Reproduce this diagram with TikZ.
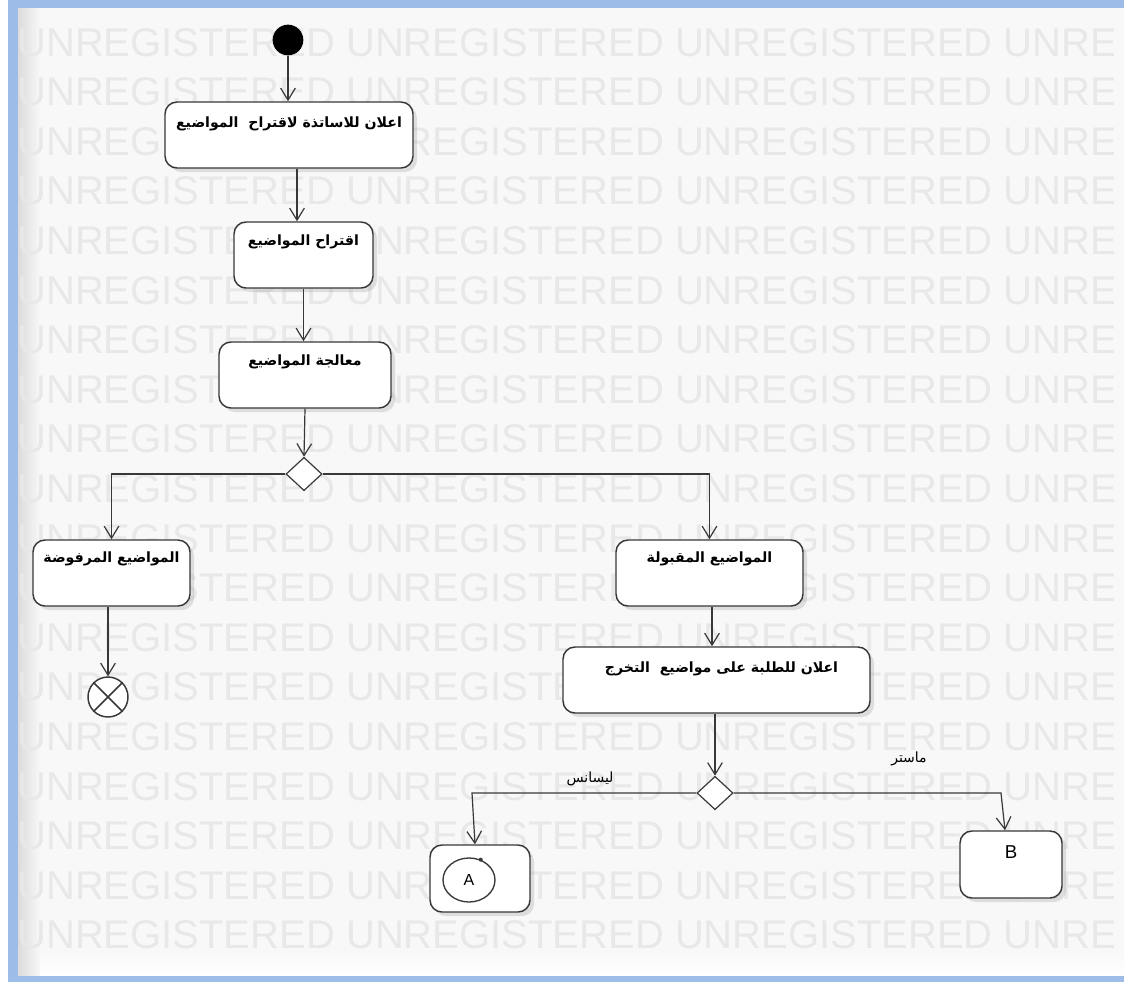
\documentclass[tikz,border=0pt]{standalone}
\usepackage{fontspec}
\setmainfont{Liberation Sans}
\newfontfamily\arabicfont[Script=Arabic]{DejaVu Sans}
\TeXXeTstate=1
\usetikzlibrary{arrows.meta,shapes.geometric,shadows,calc}
\definecolor{framebl}{HTML}{9DBDE8}
\definecolor{bgc}{HTML}{F8F8F8}
\definecolor{wmc}{HTML}{E8E8E8}
\definecolor{linec}{HTML}{383838}
\begin{document}
\begin{tikzpicture}[x=0.75pt,y=-0.75pt,
  box/.style={draw=linec, line width=1.1pt, rounded corners=9pt, fill=white, inner sep=0pt,
    drop shadow={shadow xshift=3pt, shadow yshift=-3pt, opacity=0.22, fill=gray}},
  arr/.style={draw=linec, line width=0.9pt, -{Straight Barb[length=9pt,width=11pt,line width=0.9pt]}},
  ln/.style={draw=linec, line width=0.9pt},
  atxt/.style={font=\arabicfont\bfseries\fontsize{10.6}{12}\selectfont, inner sep=0pt},
  gtxt/.style={font=\arabicfont\fontsize{10.5}{12}\selectfont, inner sep=0pt},
  wm/.style={font=\fontsize{30}{30}\selectfont, text=wmc, inner sep=0pt, anchor=base west},
  dia/.style={diamond, draw=linec, line width=0.9pt, fill=white, minimum width=27pt, minimum height=25pt, inner sep=0pt, aspect=1.1}
]
\useasboundingbox (0,0) rectangle (1124,982);
% frame
\fill[white] (0,0) rectangle (1124,982);
\fill[framebl] (8,0) rectangle (1124,982);
\fill[bgc] (18,8) rectangle (1124,975);
\shade[left color=black!14, right color=bgc] (18,8) rectangle (40,975);
\shade[top color=bgc, bottom color=white] (40,950) rectangle (1124,975);
% watermark
\begin{scope}
\clip (18,8) rectangle (1113,975);
\foreach \i in {0,...,18}{
  \node[wm] (wm\i) at (17,56+49.6*\i) {UNREGISTERED UNREGISTERED UNREGISTERED UNREGISTERED};
}
\end{scope}
% nodes
\node[circle, fill=black, minimum size=23pt, inner sep=0pt] (start) at (288,40) {};
\node[box, minimum width=186pt, minimum height=49.5pt] (n1) at (289,135) {};
\node[box, minimum width=104.25pt, minimum height=49.5pt] (n2) at (303.5,255) {};
\node[box, minimum width=129pt, minimum height=49.5pt] (n3) at (305,375) {};
\node[dia] (d1) at (304,474) {};
\node[box, minimum width=117.75pt, minimum height=49.5pt] (n4) at (111.5,573) {};
\node[box, minimum width=140.25pt, minimum height=49.5pt] (n5) at (709.5,573) {};
\node[circle, draw=linec, line width=1.1pt, fill=white, minimum size=30pt, inner sep=0pt] (fin) at (108,697) {};
\draw[ln, line width=1.1pt] (fin.45) -- (fin.225) (fin.135) -- (fin.315);
\node[box, minimum width=230.25pt, minimum height=49.5pt] (n6) at (716.5,680) {};
\node[dia] (d2) at (715,793) {};
\node[box, minimum width=75pt, minimum height=50.25pt] (A) at (480,878.5) {};
\node[box, minimum width=76.5pt, minimum height=50.25pt] (B) at (1011,864.5) {};
\node[ellipse, draw=linec, line width=1pt, minimum width=39pt, minimum height=33pt, inner sep=0pt, font=\fontsize{12}{14}\selectfont] (Ac) at (469,880) {A};
\fill[linec] (Ac.60) circle (1.5pt);
\node[inner sep=0pt, font=\fontsize{14}{16}\selectfont] (Bt) at ($(B.north)+(0,22)$) {B};
% texts
\node[atxt] (t1) at ($(n1.north)+(0,23)$) {\beginR اعلان للاساتذة لاقتراح~~المواضيع\endR};
\node[atxt] (t2) at ($(n2.north)+(0,21)$) {\beginR اقتراح المواضيع\endR};
\node[atxt] (t3) at ($(n3.north)+(0,21)$) {\beginR معالجة المواضيع\endR};
\node[atxt] (t4) at ($(n4.north)+(0,20)$) {\beginR المواضيع المرفوضة\endR};
\node[atxt] (t5) at ($(n5.north)+(0,20)$) {\beginR المواضيع المقبولة\endR};
\node[atxt] (t6) at ($(n6.north)+(5,23)$) {\beginR اعلان للطلبة على مواضيع~~التخرج\endR};
\node[gtxt] (g1) at (590,779) {\beginR ليسانس\endR};
\node[gtxt] (g2) at (909,759) {\beginR ماستر\endR};
% connectors
\draw[arr] (start) -- (start |- n1.north);
\coordinate (c1) at ($(n1.south)+(8,0)$);
\draw[arr] (c1) -- (c1 |- n2.north);
\draw[arr] (n2.south) -- (n2.south |- n3.north);
\draw[arr] (n3.south) -- (d1.north);
\draw[arr] (d1.west) -| (n4.north);
\draw[arr] (d1.east) -| (n5.north);
\draw[arr] (fin |- n4.south) -- (fin.north);
\coordinate (c5) at ($(n5.south)+(2.5,0)$);
\draw[arr] (c5) -- (c5 |- n6.north);
\draw[arr] (d2 |- n6.south) -- (d2.north);
\coordinate (ka) at (472,793);
\draw[arr] (d2.west) -- (ka) -- ($(A.north)+(-5,0)$);
\coordinate (kb) at (1001,793);
\draw[arr] (d2.east) -- (kb) -- ($(B.north)+(-6,0)$);
\end{tikzpicture}
\end{document}
